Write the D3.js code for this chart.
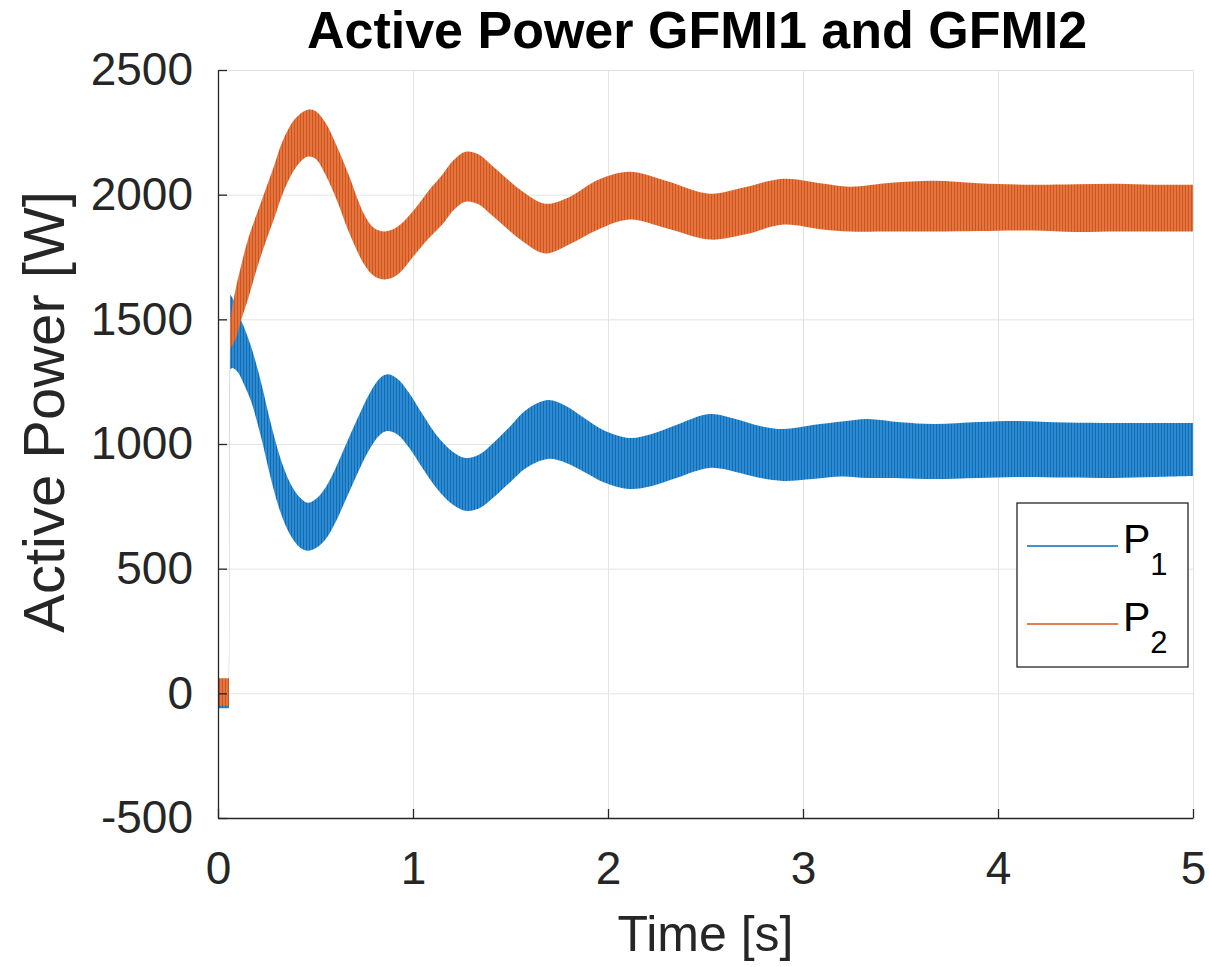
<!DOCTYPE html>
<html>
<head>
<meta charset="utf-8">
<script src="https://cdn.jsdelivr.net/npm/d3@7"></script>
<style>
  html, body { margin: 0; padding: 0; background: #fff; }
  svg { display: block; font-family: "Liberation Sans", Arial, sans-serif; }
</style>
</head>
<body>
<div id="chart"></div>
<script>
// Envelope (ripple low / high) of the two signals (time in s, power in W)
const p1Time = [0, 0.056, 0.062, 0.075, 0.10, 0.13, 0.17, 0.22, 0.27, 0.32, 0.37, 0.42, 0.46, 0.50, 0.55, 0.60, 0.66, 0.72, 0.78, 0.83, 0.867, 0.92, 0.98, 1.05, 1.12, 1.20, 1.27, 1.34, 1.42, 1.50, 1.58, 1.69, 1.78, 1.88, 1.98, 2.11, 2.22, 2.35, 2.52, 2.65, 2.78, 2.9, 3.05, 3.2, 3.33, 3.5, 3.67, 3.9, 4.1, 4.35, 4.6, 4.8, 5];
const p1Low  = [-60, -60, 1300, 1305, 1290, 1245, 1170, 1030, 865, 727, 636, 585, 572, 582, 616, 682, 785, 890, 983, 1036, 1052, 1038, 985, 902, 824, 759, 732, 742, 790, 848, 904, 940, 926, 887, 846, 820, 831, 864, 904, 889, 864, 852, 860, 870, 864, 863, 860, 864, 868, 866, 864, 868, 872];
const p1High = [50, 50, 1600, 1585, 1530, 1475, 1390, 1250, 1085, 943, 844, 785, 764, 778, 824, 898, 1005, 1110, 1207, 1264, 1280, 1262, 1205, 1118, 1036, 971, 944, 958, 1010, 1072, 1136, 1176, 1154, 1103, 1054, 1024, 1039, 1076, 1120, 1101, 1072, 1060, 1076, 1090, 1100, 1087, 1080, 1088, 1092, 1086, 1084, 1084, 1084];

const p2Time = [0, 0.056, 0.062, 0.09, 0.12, 0.155, 0.20, 0.24, 0.29, 0.33, 0.395, 0.456, 0.50, 0.55, 0.61, 0.67, 0.75, 0.80, 0.856, 0.92, 1.01, 1.08, 1.15, 1.21, 1.27, 1.34, 1.40, 1.48, 1.55, 1.677, 1.8, 1.95, 2.11, 2.3, 2.52, 2.7, 2.9, 3.1, 3.24, 3.45, 3.67, 3.9, 4.18, 4.4, 4.61, 4.8, 5];
const p2Low  = [-50, -50, 1380, 1420, 1500, 1584, 1705, 1800, 1909, 2000, 2104, 2152, 2144, 2082, 1977, 1852, 1720, 1674, 1660, 1679, 1760, 1824, 1880, 1940, 1972, 1960, 1920, 1865, 1820, 1764, 1800, 1860, 1900, 1865, 1820, 1840, 1880, 1860, 1852, 1852, 1852, 1854, 1856, 1850, 1852, 1852, 1852];
const p2High = [60, 60, 1500, 1620, 1720, 1824, 1925, 2012, 2121, 2212, 2304, 2340, 2336, 2290, 2193, 2080, 1920, 1866, 1852, 1871, 1944, 2016, 2080, 2140, 2172, 2160, 2120, 2065, 2020, 1964, 1990, 2060, 2092, 2055, 2004, 2030, 2064, 2045, 2032, 2048, 2056, 2046, 2040, 2042, 2044, 2040, 2040];

const xTicks = [0, 1, 2, 3, 4, 5];
const yTicks = [-500, 0, 500, 1000, 1500, 2000, 2500];
const seriesNames = ['P', 'P'];
const seriesSubs = ['1', '2'];

const W = 1209, H = 967;
const margin = { top: 70, right: 16, bottom: 149, left: 218 };
const axisColor = '#262626';
const colors = ['#0072BD', '#D95319'];

const svg = d3.select('#chart').append('svg')
  .attr('width', W).attr('height', H);

const x = d3.scaleLinear().domain([0, 5]).range([margin.left, W - margin.right]);
const y = d3.scaleLinear().domain([-500, 2500]).range([H - margin.bottom, margin.top]);

// ripple texture patterns
const defs = svg.append('defs');
function ripple(id, base, stripe) {
  const p = defs.append('pattern')
    .attr('id', id)
    .attr('patternUnits', 'userSpaceOnUse')
    .attr('width', 3).attr('height', 10);
  p.append('rect').attr('width', 3).attr('height', 10).attr('fill', base);
  p.append('rect').attr('x', 0).attr('width', 0.8).attr('height', 10).attr('fill', stripe);
}
ripple('rip1', '#2b8cd5', '#0d62a3');
ripple('rip2', '#e6743c', '#c24d1a');

// grid
svg.append('g')
  .attr('transform', `translate(0,${y(-500)})`)
  .call(d3.axisBottom(x).tickValues(xTicks).tickSize(-(y(-500) - y(2500))).tickFormat(''))
  .call(g => g.select('.domain').remove())
  .call(g => g.selectAll('line').attr('stroke', '#e3e3e3').attr('stroke-width', 1));
svg.append('g')
  .attr('transform', `translate(${x(0)},0)`)
  .call(d3.axisLeft(y).tickValues(yTicks).tickSize(-(x(5) - x(0))).tickFormat(''))
  .call(g => g.select('.domain').remove())
  .call(g => g.selectAll('line').attr('stroke', '#e3e3e3').attr('stroke-width', 1));

// bands: the switch-on jump is drawn straight, the rest smoothed
function band(t, lo, hi, curve) {
  return d3.area()
    .x(i => x(t[i]))
    .y0(i => y(lo[i]))
    .y1(i => y(hi[i]))
    .curve(curve);
}
function drawSeries(t, lo, hi, fill) {
  const idx = d3.range(t.length);
  svg.append('path').attr('d', band(t, lo, hi, d3.curveLinear)(idx.slice(0, 3))).attr('fill', fill);
  svg.append('path').attr('d', band(t, lo, hi, d3.curveCatmullRom.alpha(0.5))(idx.slice(2))).attr('fill', fill);
}
drawSeries(p1Time, p1Low, p1High, 'url(#rip1)');
drawSeries(p2Time, p2Low, p2High, 'url(#rip2)');

// axes
const fs = 46;
const xAxis = svg.append('g')
  .attr('transform', `translate(0,${y(-500)})`)
  .call(d3.axisBottom(x).tickValues(xTicks).tickSizeInner(-9).tickSizeOuter(0).tickPadding(33).tickFormat(d3.format('d')));
const yAxis = svg.append('g')
  .attr('transform', `translate(${x(0)},0)`)
  .call(d3.axisLeft(y).tickValues(yTicks).tickSizeInner(-9).tickSizeOuter(0).tickPadding(25).tickFormat(d => d < 0 ? '-' + Math.abs(d) : d));
[xAxis, yAxis].forEach(g => {
  g.select('.domain').attr('stroke', axisColor).attr('stroke-width', 1.3);
  g.selectAll('line').attr('stroke', axisColor).attr('stroke-width', 1.3);
  g.selectAll('text').attr('fill', axisColor).attr('font-size', fs)
    .attr('font-family', '"Liberation Sans", Arial, sans-serif');
});

// labels
svg.append('text')
  .attr('x', (x(0) + x(5)) / 2).attr('y', 951)
  .attr('text-anchor', 'middle').attr('font-size', 50).attr('fill', axisColor)
  .text('Time [s]');
svg.append('text')
  .attr('transform', 'translate(64,412) rotate(-90)')
  .attr('text-anchor', 'middle').attr('font-size', 58).attr('fill', axisColor)
  .text('Active Power [W]');
svg.append('text')
  .attr('x', 697).attr('y', 48)
  .attr('text-anchor', 'middle').attr('font-size', 52).attr('font-weight', 'bold').attr('fill', '#000')
  .text('Active Power GFMI1 and GFMI2');

// legend
const lg = svg.append('g').attr('transform', 'translate(1017,503)');
lg.append('rect').attr('width', 171).attr('height', 164)
  .attr('fill', '#fff').attr('stroke', axisColor).attr('stroke-width', 1.3);
seriesNames.forEach((name, i) => {
  const cy = 43 + i * 78;
  lg.append('line').attr('x1', 10).attr('x2', 101).attr('y1', cy).attr('y2', cy)
    .attr('stroke', colors[i]).attr('stroke-width', 1.5);
  const t = lg.append('text').attr('x', 106).attr('y', cy + 7)
    .attr('font-size', 41).attr('fill', '#000');
  t.append('tspan').text(name);
  t.append('tspan').attr('dy', 22).attr('font-size', 31).text(seriesSubs[i]);
});
</script>
</body>
</html>
